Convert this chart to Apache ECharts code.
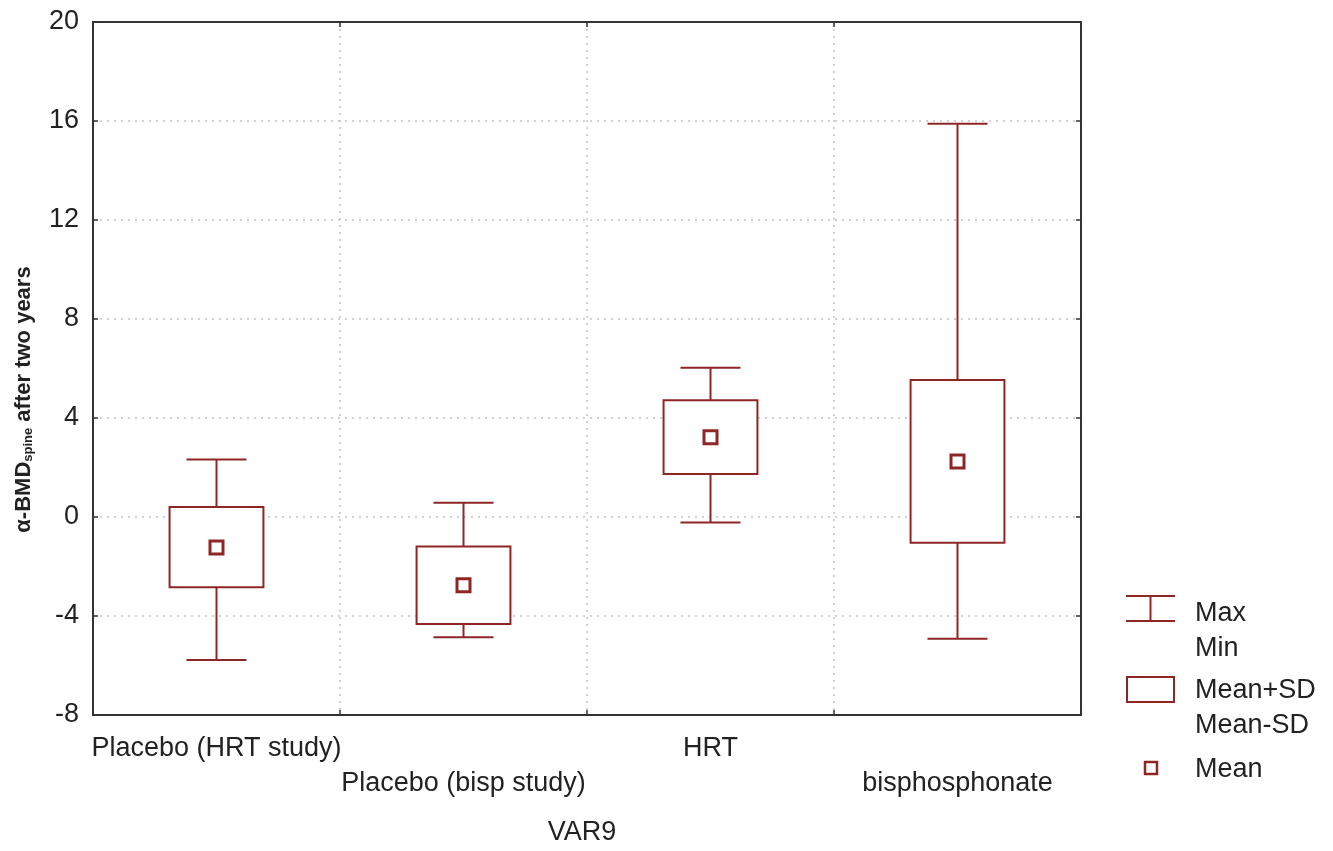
<!DOCTYPE html>
<html>
<head>
<meta charset="utf-8">
<script src="https://cdn.jsdelivr.net/npm/echarts@6/dist/echarts.min.js"></script>
<style>
html,body{margin:0;padding:0;background:#fff;}
#chart{width:1333px;height:851px;}
</style>
</head>
<body>
<div id="chart"></div>
<script>
// Data
const categories = ['Placebo (HRT study)', 'Placebo (bisp study)', 'HRT', 'bisphosphonate'];
const minValues    = [-5.78, -4.86, -0.22, -4.92];
const meanMinusSD  = [-2.84, -4.32,  1.74, -1.04];
const meanValues   = [-1.23, -2.76,  3.22,  2.24];
const meanPlusSD   = [ 0.40, -1.19,  4.72,  5.54];
const maxValues    = [ 2.32,  0.58,  6.03, 15.89];
const yTicks = [-8, -4, 0, 4, 8, 12, 16, 20];

const RED = '#8f2626';
const FONT = '"Liberation Sans", Arial, sans-serif';
const TXT = '#222';

const seriesData = categories.map((c, i) => [i, minValues[i], meanMinusSD[i], meanValues[i], meanPlusSD[i], maxValues[i]]);

function renderItem(params, api) {
  const x = api.value(0);
  const pMin = api.coord([x, api.value(1)]);
  const pLo = api.coord([x, api.value(2)]);
  const pMean = api.coord([x, api.value(3)]);
  const pHi = api.coord([x, api.value(4)]);
  const pMax = api.coord([x, api.value(5)]);
  const band = api.size([1, 0])[0];
  const bw = band * 0.38;
  const cw = band * 0.243;
  const cx = pMean[0];
  const ls = { stroke: RED, lineWidth: 2 };
  const ms = 13;
  return {
    type: 'group',
    children: [
      { type: 'line', shape: { x1: cx, y1: pMax[1], x2: cx, y2: pMin[1] }, style: ls },
      { type: 'line', shape: { x1: cx - cw / 2, y1: pMax[1], x2: cx + cw / 2, y2: pMax[1] }, style: ls },
      { type: 'line', shape: { x1: cx - cw / 2, y1: pMin[1], x2: cx + cw / 2, y2: pMin[1] }, style: ls },
      { type: 'rect', shape: { x: cx - bw / 2, y: pHi[1], width: bw, height: pLo[1] - pHi[1] }, style: { fill: '#fff', stroke: RED, lineWidth: 2 } },
      { type: 'rect', shape: { x: cx - ms / 2, y: pMean[1] - ms / 2, width: ms, height: ms }, style: { fill: '#fff', stroke: RED, lineWidth: 3 } }
    ]
  };
}

const chart = echarts.init(document.getElementById('chart'), null, { renderer: 'canvas' });

const axisLineStyle = { show: true, onZero: false, lineStyle: { color: '#333', width: 2 } };
const tickStyle = { show: true, inside: true, length: 5, lineStyle: { color: '#333', width: 1.5 } };
const gridLine = { color: '#c4c4c4', type: [2, 5], width: 1.5 };

const option = {
  backgroundColor: '#fff',
  animation: false,
  textStyle: { fontFamily: FONT },
  grid: { left: 93, right: 252, top: 22, bottom: 134, show: true, borderColor: '#333', borderWidth: 2, backgroundColor: 'transparent' },
  xAxis: [{
    type: 'category',
    data: categories,
    boundaryGap: true,
    position: 'bottom',
    axisLine: axisLineStyle,
    axisTick: tickStyle,
    splitLine: { show: true, interval: 0, showMinLine: false, showMaxLine: false, lineStyle: gridLine },
    axisLabel: {
      interval: 0,
      margin: 16,
      color: TXT,
      fontSize: 27,
      fontFamily: FONT,
      lineHeight: 35,
      formatter: function (v, i) { return i % 2 === 1 ? '\n' + v : v; }
    },
    name: 'VAR9',
    nameLocation: 'middle',
    nameGap: 104,
    nameTextStyle: { color: TXT, fontSize: 27, fontFamily: FONT, padding: [0, 10, 0, 0] }
  }, {
    type: 'category',
    data: categories,
    position: 'top',
    axisLine: axisLineStyle,
    axisTick: tickStyle,
    axisLabel: { show: false },
    splitLine: { show: false }
  }],
  yAxis: [{
    type: 'value',
    min: yTicks[0],
    max: yTicks[yTicks.length - 1],
    interval: 4,
    position: 'left',
    axisLine: axisLineStyle,
    axisTick: tickStyle,
    splitLine: { show: true, showMinLine: false, showMaxLine: false, lineStyle: gridLine },
    axisLabel: { color: TXT, fontSize: 27, fontFamily: FONT, margin: 14 },
    name: '{b|α-BMD}{s|spine}{b| after two years}',
    nameLocation: 'middle',
    nameGap: 58,
    nameRotate: 90,
    nameTextStyle: {
      padding: [0, 62, 0, 0],
      rich: {
        b: { fontSize: 22, fontWeight: 'bold', color: TXT, fontFamily: FONT, lineHeight: 24, verticalAlign: 'bottom' },
        s: { fontSize: 13, fontWeight: 'bold', color: TXT, fontFamily: FONT, lineHeight: 24, verticalAlign: 'bottom', padding: [6, 0, 0, 0] }
      }
    }
  }, {
    type: 'value',
    min: yTicks[0],
    max: yTicks[yTicks.length - 1],
    interval: 4,
    position: 'right',
    axisLine: axisLineStyle,
    axisTick: tickStyle,
    splitLine: { show: false },
    axisLabel: { show: false }
  }],
  series: [{
    type: 'custom',
    renderItem: renderItem,
    data: seriesData,
    encode: { x: 0, y: [1, 2, 3, 4, 5] },
    z: 5
  }],
  graphic: [
    // legend: whisker
    { type: 'line', shape: { x1: 1126, y1: 596, x2: 1175, y2: 596 }, style: { stroke: RED, lineWidth: 2 } },
    { type: 'line', shape: { x1: 1126, y1: 621, x2: 1175, y2: 621 }, style: { stroke: RED, lineWidth: 2 } },
    { type: 'line', shape: { x1: 1150.5, y1: 596, x2: 1150.5, y2: 621 }, style: { stroke: RED, lineWidth: 2 } },
    { type: 'text', left: 1195, top: 596, style: { text: 'Max\nMin', font: '27px ' + FONT, fill: TXT, lineHeight: 35 } },
    // legend: box
    { type: 'rect', shape: { x: 1127, y: 677, width: 47, height: 25 }, style: { fill: '#fff', stroke: RED, lineWidth: 2 } },
    { type: 'text', left: 1195, top: 673, style: { text: 'Mean+SD\nMean-SD', font: '27px ' + FONT, fill: TXT, lineHeight: 35 } },
    // legend: mean
    { type: 'rect', shape: { x: 1145, y: 762, width: 12, height: 12 }, style: { fill: '#fff', stroke: RED, lineWidth: 2.5 } },
    { type: 'text', left: 1195, top: 752, style: { text: 'Mean', font: '27px ' + FONT, fill: TXT, lineHeight: 35 } }
  ]
};

chart.setOption(option);
</script>
</body>
</html>
